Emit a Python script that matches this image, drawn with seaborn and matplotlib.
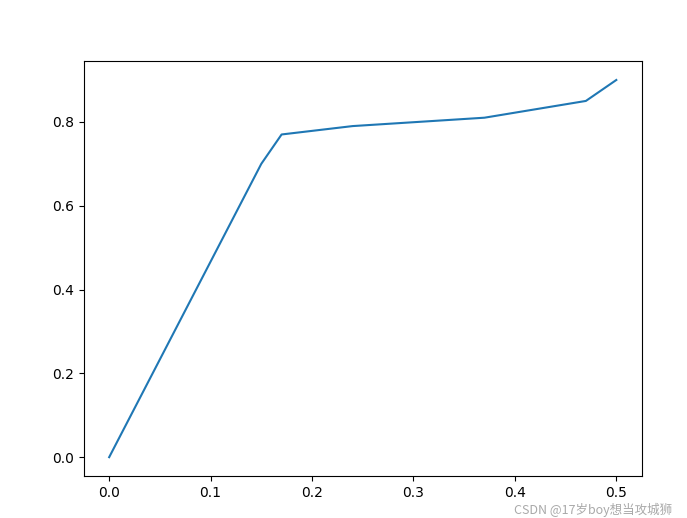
import matplotlib
matplotlib.use("Agg")
import matplotlib.pyplot as plt
import numpy as np
import seaborn as sns

# values
x_vals = np.array([0.0, 0.15, 0.17, 0.24, 0.37, 0.47, 0.5])
y_vals = np.array([0.0, 0.70, 0.77, 0.79, 0.81, 0.85, 0.90])
watermark = "CSDN @17岁boy想当攻城狮"

fig, ax = plt.subplots(figsize=(6.87, 5.18), dpi=100)
fig.subplots_adjust(left=0.122, right=0.934, bottom=0.081, top=0.882)

sns.lineplot(x=x_vals, y=y_vals, ax=ax, color="#1f77b4", linewidth=1.5,
             sort=False, estimator=None)
ax.set_xlabel("")
ax.set_ylabel("")
ax.set_xticks([0.0, 0.1, 0.2, 0.3, 0.4, 0.5])
ax.set_yticks([0.0, 0.2, 0.4, 0.6, 0.8])

# watermark sits just under the tick labels
fig.text(0.978, 0.002, watermark, ha="right", va="bottom", fontsize=9,
         color="#9a9a9a", alpha=0.85,
         family=["Noto Sans CJK SC", "DejaVu Sans"])

fig.savefig("out.png", dpi=100)
plt.close(fig)
